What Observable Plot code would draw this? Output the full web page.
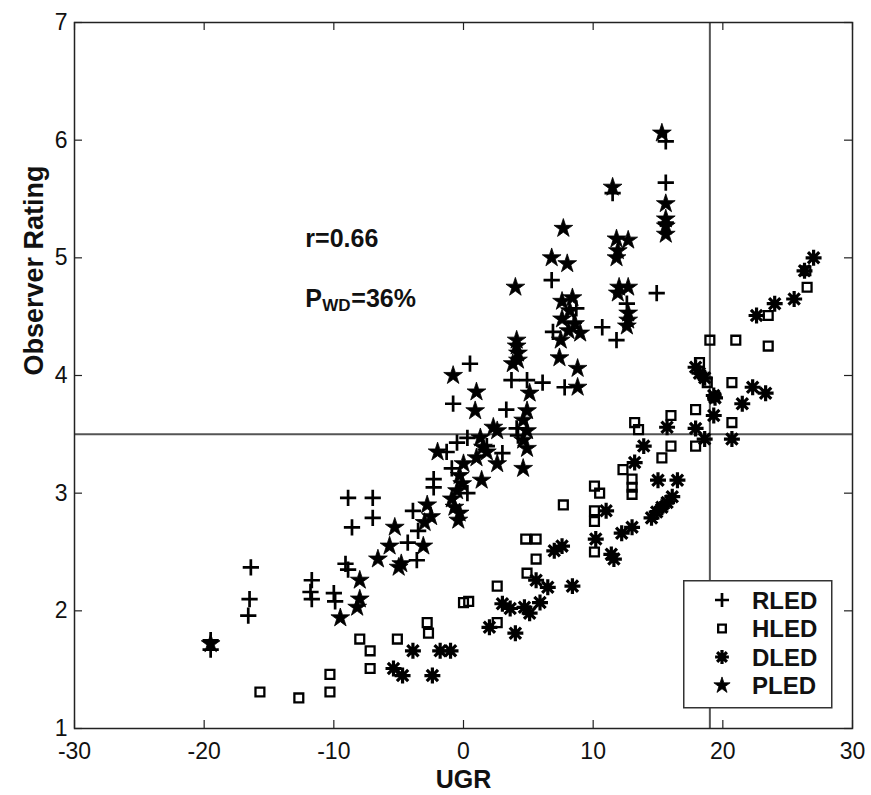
<!DOCTYPE html>
<html><head><meta charset="utf-8">
<script src="https://cdn.jsdelivr.net/npm/d3@7"></script>
<script src="https://cdn.jsdelivr.net/npm/@observablehq/plot@0.6"></script>
<style>
body{margin:0;background:#fff;}
#wrap{position:relative;width:871px;height:795px;font-family:"Liberation Sans",Arial,sans-serif;}
#legend{position:absolute;left:683px;top:580px;}
</style></head><body><div id="wrap"></div>
<script>
const seriesNames = ["RLED","HLED","DLED","PLED"];
const xTicks = [-30,-20,-10,0,10,20,30];
const yTicks = [1,2,3,4,5,6,7];
const thresholdUGR = [19];
const thresholdRating = [3.5];

// [UGR, Observer Rating]
const rled = [
[-19.5,1.67],[-19.5,1.75],
[-16.4,2.37],[-16.5,2.10],[-16.6,1.96],
[-11.7,2.26],[-11.8,2.16],[-11.7,2.10],
[-10.0,2.15],[-9.9,2.08],
[-9.1,2.40],[-8.9,2.35],
[-8.9,2.96],[-7.0,2.96],[-7.0,2.79],[-8.6,2.71],
[-4.3,2.58],[-3.6,2.43],[-3.9,2.85],[-3.5,2.68],
[-2.3,3.12],[-2.3,3.05],
[-1.3,3.35],[-0.5,3.43],[0.3,3.47],[-0.9,3.21],[0.3,3.00],
[-0.8,3.76],[0.5,4.10],
[3.0,3.34],[1.8,3.40],[3.3,3.71],[3.7,3.96],[4.9,3.96],[6.1,3.94],
[4.1,3.55],[4.2,3.49],
[6.8,4.81],[6.9,4.37],[7.8,3.90],[8.7,4.57],[8.5,4.45],
[10.7,4.41],[11.8,4.30],[12.6,4.61],[11.5,5.55],
[14.9,4.70],[15.6,5.99],[15.6,5.64],[15.6,5.30]
];
const hled = [
[-15.7,1.31],[-12.7,1.26],[-10.3,1.46],[-10.3,1.31],
[-8.0,1.76],[-7.2,1.66],[-7.2,1.51],[-5.1,1.76],
[-2.8,1.90],[-2.7,1.81],
[0.0,2.07],[0.4,2.08],
[2.6,2.21],[2.6,1.90],
[4.8,2.61],[5.6,2.61],[5.6,2.44],[4.9,2.32],
[7.7,2.90],
[10.1,3.06],[10.5,3.00],[10.1,2.85],[10.1,2.76],[10.1,2.50],
[12.3,3.20],[13.0,3.12],[13.0,3.05],[13.0,2.99],
[13.2,3.60],[13.5,3.54],
[15.3,3.30],[16.0,3.40],[16.0,3.66],
[17.9,3.71],[17.9,3.40],
[18.2,4.11],[18.8,3.94],[19.0,4.30],
[20.7,3.94],[20.7,3.60],[21.0,4.30],
[23.5,4.25],[23.5,4.51],
[26.5,4.75],[26.4,4.89]
];
const dled = [
[-5.4,1.51],[-4.7,1.45],[-3.9,1.66],[-2.4,1.45],[-1.8,1.66],[-1.0,1.66],
[2.0,1.86],[3.0,2.06],[3.6,2.02],[4.0,1.81],[4.7,2.03],[5.1,1.98],[5.9,2.07],
[5.6,2.26],[6.5,2.20],[8.4,2.21],
[7.0,2.51],[7.6,2.55],
[10.2,2.61],[11.0,2.85],[11.6,2.44],[11.4,2.48],
[12.2,2.66],[13.0,2.71],
[14.5,2.79],[14.9,2.84],[15.3,2.88],[15.7,2.92],[16.1,2.97],
[15.0,3.11],[16.5,3.11],
[13.2,3.26],[13.9,3.40],
[15.7,3.56],
[17.9,3.55],[18.6,3.46],
[19.3,3.83],[19.3,3.66],
[20.7,3.46],
[17.9,4.07],[18.2,4.02],[18.6,3.98],
[19.4,3.81],[21.5,3.76],[22.3,3.90],[23.3,3.85],
[22.6,4.51],[24.0,4.61],[25.5,4.65],[26.3,4.89],[27.0,5.00]
];
const pled = [
[-19.5,1.72],
[-9.5,1.94],
[-8.0,2.26],[-8.0,2.10],[-8.2,2.03],
[-6.6,2.44],[-5.7,2.55],[-5.3,2.71],[-5.0,2.37],[-3.1,2.55],[-4.8,2.40],
[-2.8,2.90],[-3.0,2.75],[-2.5,2.80],
[-2.0,3.35],[-0.8,4.00],[1.0,3.86],[0.9,3.70],
[-0.5,3.02],[-0.9,2.95],[-0.7,2.88],[-0.4,2.77],[-0.3,2.83],
[0.0,3.25],[-0.3,3.15],[-0.1,3.08],
[1.3,3.47],[1.5,3.39],[1.0,3.30],[1.8,3.35],[2.3,3.56],[2.6,3.53],[2.6,3.25],[1.4,3.11],
[4.1,4.25],[4.2,4.19],[3.8,4.10],[4.1,4.30],[4.2,4.13],
[5.1,3.85],[4.9,3.70],[4.6,3.62],[4.9,3.53],[4.6,3.45],[4.9,3.38],[4.6,3.21],
[4.0,4.75],
[7.4,4.15],[8.8,4.06],[8.8,3.90],
[7.6,4.63],[8.4,4.66],[8.2,4.55],[7.6,4.48],[8.6,4.44],[8.1,4.38],[9.0,4.36],[7.5,4.30],
[7.7,5.25],[6.8,5.00],[8.0,4.95],
[11.5,5.60],[11.8,5.16],[12.7,5.15],[11.9,5.06],[11.8,5.00],
[12.0,4.75],[12.7,4.75],[11.9,4.70],
[12.7,4.53],[12.7,4.47],[12.6,4.42],
[15.3,6.06],[15.6,5.46],[15.6,5.33],[15.6,5.27],[15.6,5.20]
];
const statR = "r=0.66";
const statP = ["P","WD","=36%"];

const asterisk8 = {draw(ctx, size){
  const r = Math.sqrt(size/Math.PI)*1.45;
  for (let k=0;k<4;k++){const a=k*Math.PI/4, c=Math.cos(a)*r, s=Math.sin(a)*r; ctx.moveTo(-c,-s); ctx.lineTo(c,s);}
}};
const styles = {
  RLED:{symbol:d3.symbolPlus, r:5.3, fill:"none", stroke:"#000", strokeWidth:2.7},
  HLED:{symbol:d3.symbolSquare, r:5, fill:"none", stroke:"#000", strokeWidth:2.3},
  DLED:{symbol:asterisk8, r:5.5, fill:"none", stroke:"#000", strokeWidth:3.2},
  PLED:{symbol:d3.symbolStar, r:5.9, fill:"#000", stroke:"#000", strokeWidth:0.8}
};
const seriesData = {RLED:rled, HLED:hled, DLED:dled, PLED:pled};

const W=871,H=795,mL=74,mR=19,mT=22,mB=67;
const fw=W-mL-mR, fh=H-mT-mB;
const tickLen=8;
const font="Liberation Sans, Arial, Helvetica, sans-serif";
const fmt = d => String(d);

const chart = Plot.plot({
  width:W, height:H, marginLeft:mL, marginRight:mR, marginTop:mT, marginBottom:mB,
  style:{fontFamily:font, fontSize:"22px", color:"#111", background:"#fff"},
  x:{domain:[-30,30]},
  y:{domain:[1,7]},
  marks:[
    Plot.axisX(xTicks,{tickSize:0, tickPadding:14, label:null, fontSize:23, tickFormat:fmt}),
    Plot.axisY(yTicks,{tickSize:0, tickPadding:7, label:null, fontSize:23, tickFormat:fmt}),
    Plot.tickX(xTicks,{x:d=>d, insetTop:fh-tickLen, stroke:"#222", strokeWidth:1.2}),
    Plot.tickX(xTicks,{x:d=>d, insetBottom:fh-tickLen, stroke:"#222", strokeWidth:1.2}),
    Plot.tickY(yTicks,{y:d=>d, insetRight:fw-tickLen, stroke:"#222", strokeWidth:1.2}),
    Plot.tickY(yTicks,{y:d=>d, insetLeft:fw-tickLen, stroke:"#222", strokeWidth:1.2}),
    Plot.ruleY(thresholdRating,{stroke:"#555", strokeWidth:2}),
    Plot.ruleX(thresholdUGR,{stroke:"#555", strokeWidth:2}),
    ...seriesNames.map(n => Plot.dot(seriesData[n],{x:d=>d[0], y:d=>d[1], ...styles[n]})),
    Plot.frame({stroke:"#222", strokeWidth:1.5}),
    Plot.text([statR],{x:-12.2, y:5.16, text:d=>d, textAnchor:"start", lineAnchor:"middle", fontWeight:"bold", fontSize:25, fill:"#111"}),
    Plot.text([statP[0]],{x:-12.2, y:4.65, text:d=>d, textAnchor:"start", lineAnchor:"middle", fontWeight:"bold", fontSize:25, fill:"#111"}),
    Plot.text([statP[1]],{x:-12.2, y:4.65, dx:17, dy:7, text:d=>d, textAnchor:"start", lineAnchor:"middle", fontWeight:"bold", fontSize:17, fill:"#111"}),
    Plot.text([statP[2]],{x:-12.2, y:4.65, dx:46, text:d=>d, textAnchor:"start", lineAnchor:"middle", fontWeight:"bold", fontSize:25, fill:"#111"}),
    Plot.text(["UGR"],{frameAnchor:"bottom", dy:51, text:d=>d, lineAnchor:"middle", fontWeight:"bold", fontSize:25, fill:"#111"}),
    Plot.text(["Observer Rating"],{frameAnchor:"left", dx:-40, rotate:-90, text:d=>d, lineAnchor:"middle", fontWeight:"bold", fontSize:27, fill:"#111"})
  ]
});
const wrap = document.getElementById("wrap");
wrap.appendChild(chart);

// legend overlay
const lg = d3.select(wrap).append("svg").attr("id","legend").attr("width",150).attr("height",129);
lg.append("rect").attr("x",0.75).attr("y",0.75).attr("width",148).attr("height",127).attr("fill","#fff").attr("stroke","#333").attr("stroke-width",1.5);
seriesNames.forEach((n,i)=>{
  const s = styles[n];
  const cy = 20 + i*28.5;
  lg.append("path").attr("transform",`translate(39,${cy})`)
    .attr("d", d3.symbol(s.symbol, Math.PI*s.r*s.r*0.75)())
    .attr("fill",s.fill).attr("stroke",s.stroke).attr("stroke-width",s.strokeWidth);
  lg.append("text").attr("x",69).attr("y",cy).attr("dy","0.36em")
    .attr("font-family",font).attr("font-weight","bold").attr("font-size",24).attr("fill","#111").text(n);
});
</script>
</body></html>
